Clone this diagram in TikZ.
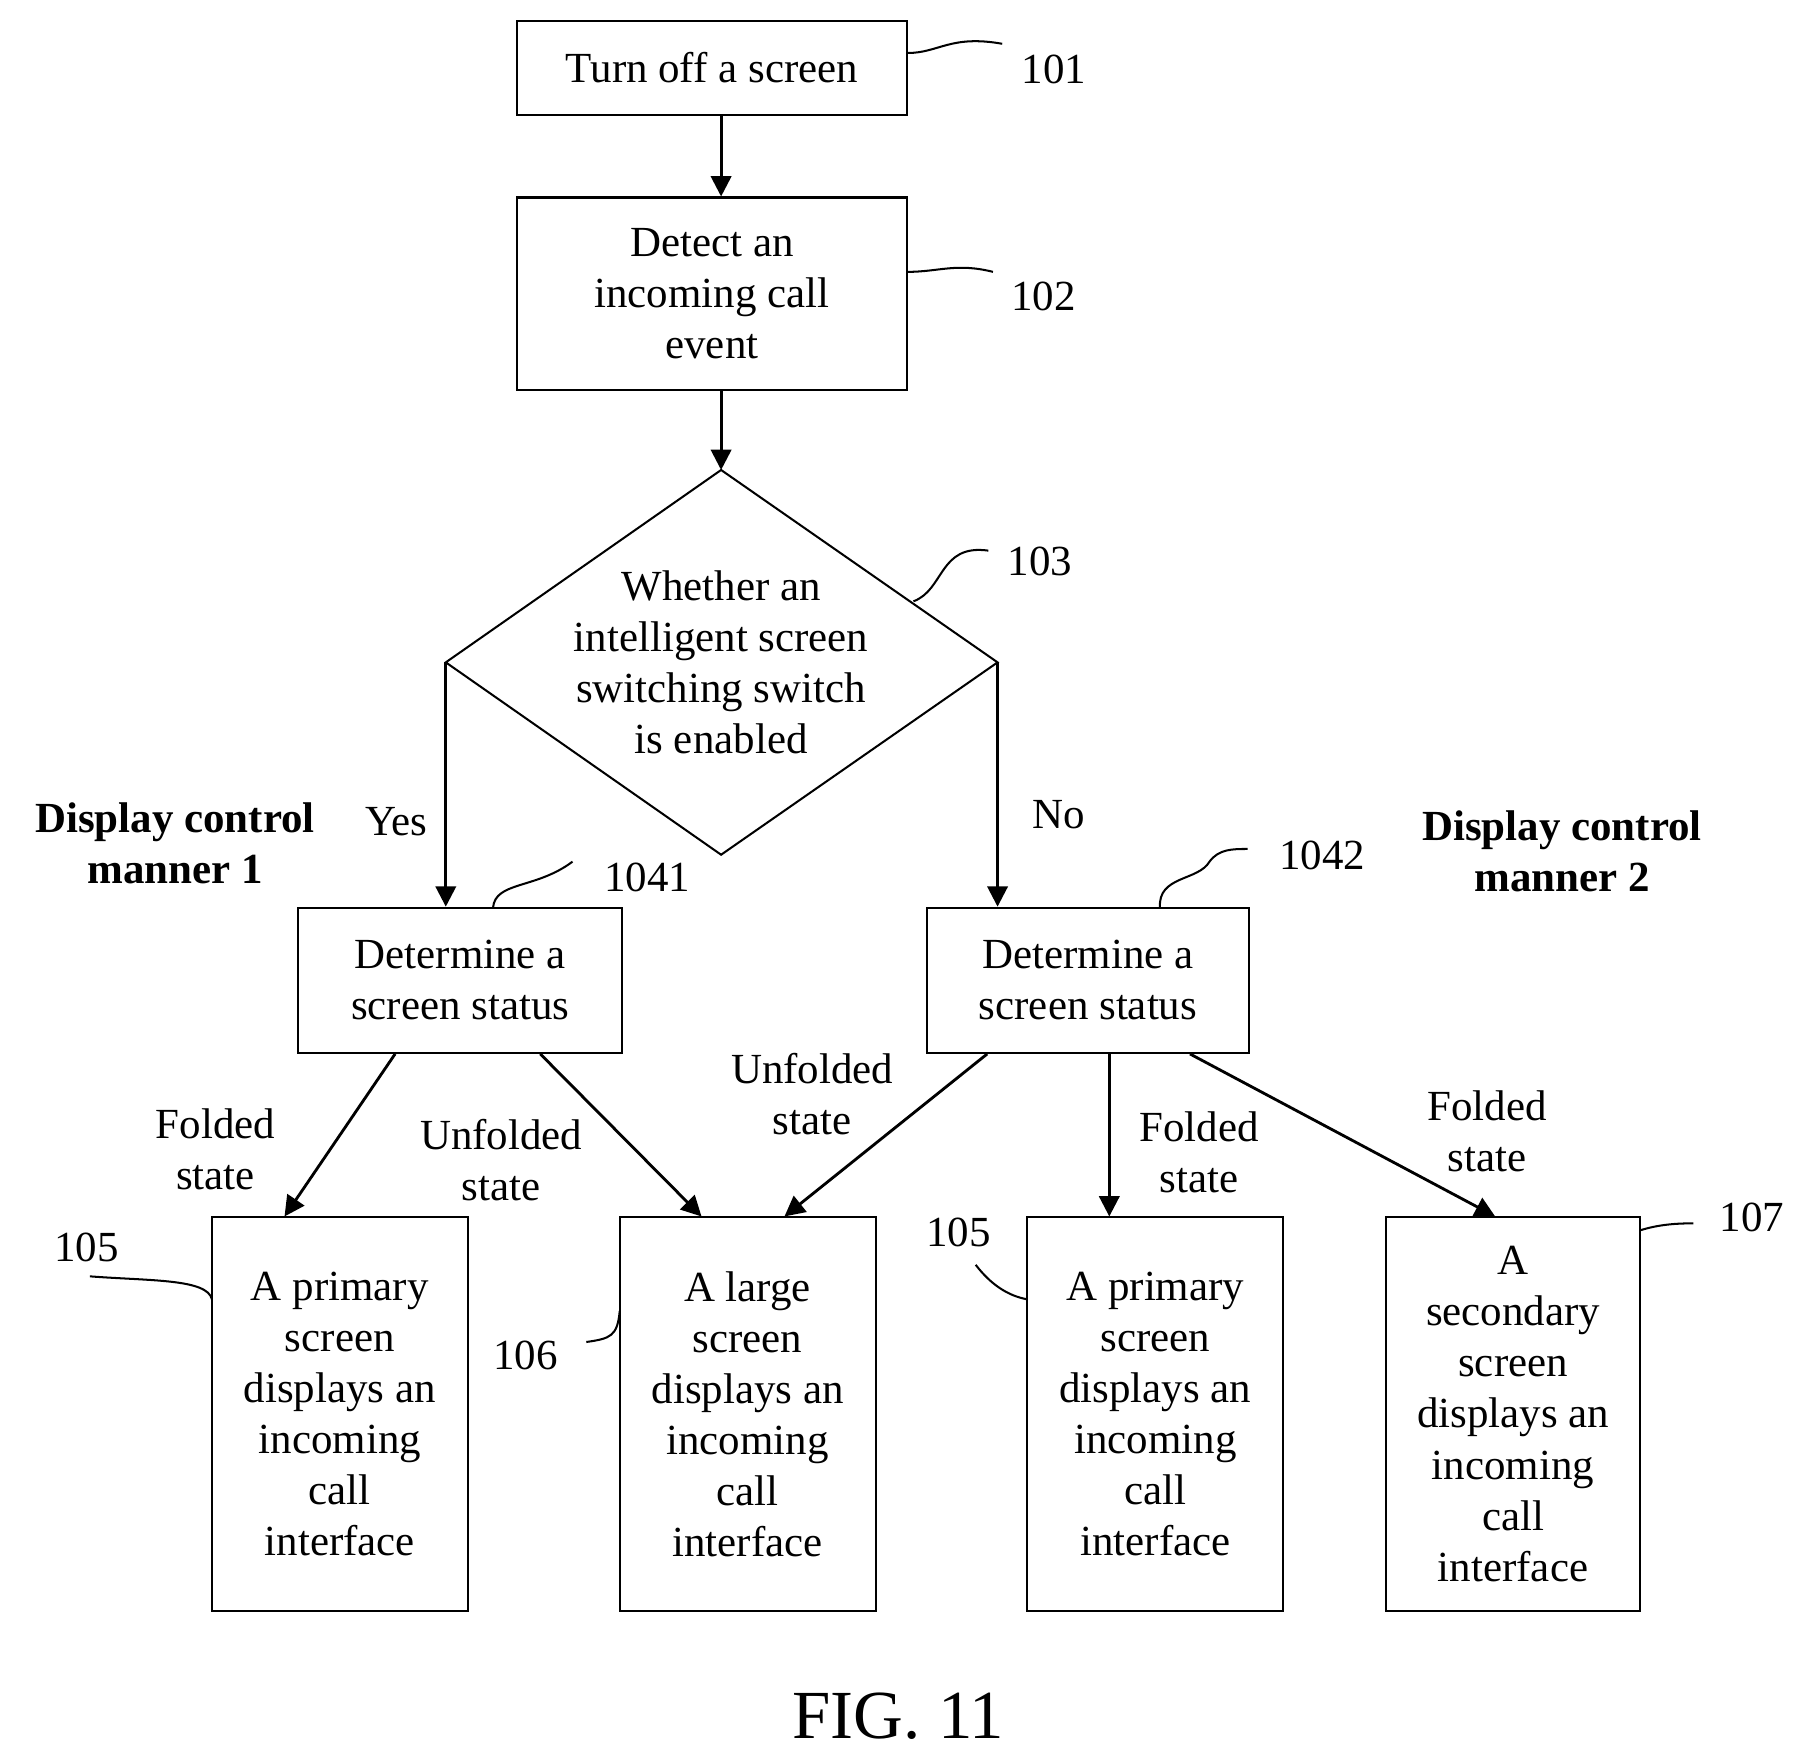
\documentclass[tikz,border=0pt]{standalone}
\usepackage{fontspec}
\setmainfont{Liberation Serif}
\usetikzlibrary{arrows.meta}
\begin{document}
\begin{tikzpicture}[x=0.01cm,y=-0.01cm,
  every node/.style={font=\fontsize{10.6}{12.6}\selectfont},
  box/.style={draw,line width=0.5pt,align=center,inner sep=0pt},
  arr/.style={-{Triangle[length=5pt,width=5pt]},line width=0.7pt},
  sq/.style={line width=0.5pt},
  lbl/.style={align=center},
  bold/.style={align=center,font=\fontsize{10.6}{12.6}\selectfont\bfseries}]
\useasboundingbox (0,0) rectangle (1560,1518);
\node[box,minimum width=3.39cm,minimum height=0.82cm] (b101) at (618,59) {Turn off a screen};
\node[box,minimum width=3.39cm,minimum height=1.67cm] (b102) at (618,255) {Detect an\\incoming call\\event};
\draw[line width=0.5pt] (626,408) coordinate (dt) -- (866,575) coordinate (dr) -- (626,742) -- (387,575) coordinate (dl) -- cycle;
\node[lbl] (d103) at (626,575) {Whether an\\intelligent screen\\switching switch\\is enabled};
\node[box,minimum width=2.81cm,minimum height=1.26cm] (b1041) at (399.5,851) {Determine a\\screen status};
\node[box,minimum width=2.79cm,minimum height=1.26cm] (b1042) at (944.5,851) {Determine a\\screen status};
\node[box,minimum width=2.22cm,minimum height=3.41cm] (bA) at (295,1227.5) {A primary\\screen\\displays an\\incoming\\call\\interface};
\node[box,minimum width=2.22cm,minimum height=3.41cm] (bB) at (649,1227.5) {A large\\screen\\displays an\\incoming\\call\\interface};
\node[box,minimum width=2.22cm,minimum height=3.41cm] (bC) at (1003,1227.5) {A primary\\screen\\displays an\\incoming\\call\\interface};
\node[box,minimum width=2.21cm,minimum height=3.41cm] (bD) at (1313.5,1227.5) {A\\secondary\\screen\\displays an\\incoming\\call\\interface};
\draw[arr] (b101.south -| 626,0) -- (b102.north -| 626,0);
\draw[arr] (b102.south -| 626,0) -- (dt);
\draw[arr] (dl) -- (b1041.north -| dl);
\draw[arr] (dr) -- (b1042.north -| dr);
\draw[arr] (b1041.south -| 343,0) -- (bA.north -| 247,0);
\draw[arr] (b1041.south -| 469,0) -- (bB.north -| 609,0);
\draw[arr] (b1042.south -| 857,0) -- (bB.north -| 681,0);
\draw[arr] (b1042.south -| 963,0) -- (bC.north -| 963,0);
\draw[arr] (b1042.south -| 1033,0) -- (bD.north -| 1298,0);
\node (yes) at (344,713) {Yes};
\node (no) at (919,707) {No};
\node[bold] (m1) at (152,732) {Display control\\manner 1};
\node[bold] (m2) at (1356,739) {Display control\\manner 2};
\node[lbl] (l1) at (187,998) {Folded\\state};
\node[lbl] (l2) at (435,1007) {Unfolded\\state};
\node[lbl] (l3) at (705,950) {Unfolded\\state};
\node[lbl] (l4) at (1041,1000) {Folded\\state};
\node[lbl] (l5) at (1291,982) {Folded\\state};
\node (n101) at (915,60) {101};
\node (n102) at (906,257) {102};
\node (n103) at (903,487) {103};
\node (n1041) at (562,762) {1041};
\node (n1042) at (1148,743) {1042};
\node (n105a) at (75,1083) {105};
\node (n106) at (456,1177) {106};
\node (n105b) at (832,1070) {105};
\node (n107) at (1521,1057) {107};
\draw[sq] (788,46) .. controls (815,46) and (825,30) .. (870,38);
\draw[sq] (788,236) .. controls (815,236) and (830,228) .. (862,236);
\draw[sq] (793,522) .. controls (820,512) and (815,472) .. (858,478);
\draw[sq] (428,788) .. controls (430,765) and (465,772) .. (497,748);
\draw[sq] (1007,788) .. controls (1005,760) and (1040,765) .. (1050,748) .. controls (1058,737) and (1070,737) .. (1083,737);
\draw[sq] (78,1108) .. controls (130,1112) and (180,1110) .. (184,1128);
\draw[sq] (509,1165) .. controls (530,1162) and (536,1160) .. (538,1138);
\draw[sq] (847,1098) .. controls (860,1115) and (875,1125) .. (892,1128);
\draw[sq] (1424,1068) .. controls (1440,1063) and (1455,1062) .. (1470,1062);
\node[font=\fontsize{17}{20}\selectfont] (fig) at (780,1490) {FIG. 11};
\end{tikzpicture}
\end{document}
